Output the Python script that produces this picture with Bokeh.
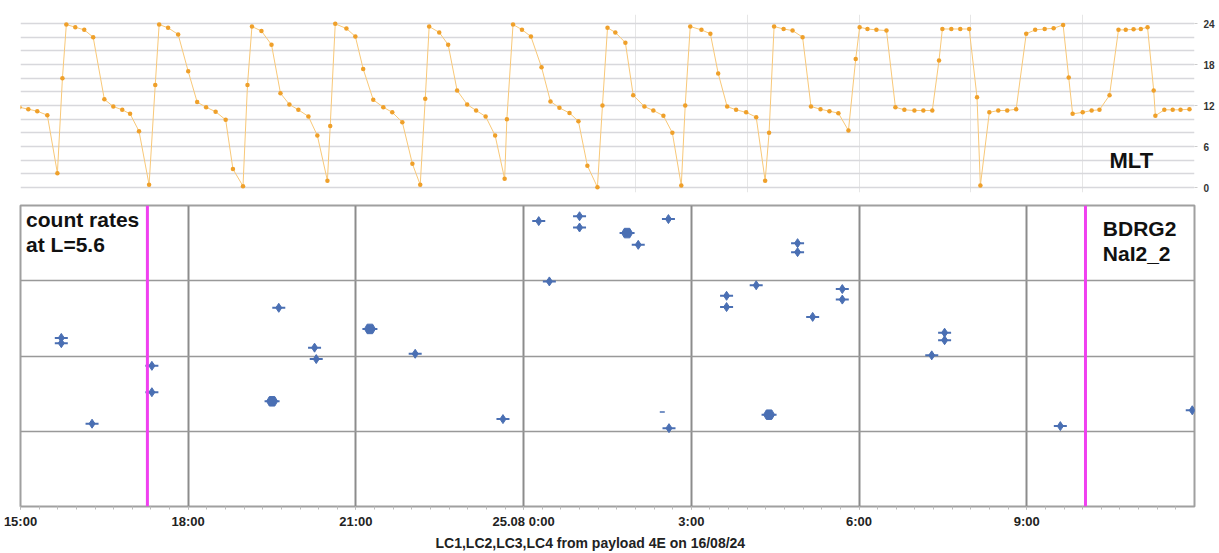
from bokeh.plotting import figure
from bokeh.layouts import column
from bokeh.models import Range1d, FixedTicker, Span, Label, Title
from bokeh.embed import file_html
from bokeh.resources import INLINE
import numpy as np

FONT = "Liberation Sans"

# ---------------- data ----------------
# hours since 24.08 0:00
mlt_time = [14.98, 15.14, 15.30, 15.48, 15.66, 15.75, 15.82, 15.98, 16.14, 16.30,
            16.50, 16.66, 16.82, 16.96, 17.12, 17.30, 17.41, 17.48, 17.64, 17.82,
            18.00, 18.16, 18.32, 18.49, 18.67, 18.80, 18.98, 19.06, 19.14, 19.31,
            19.49, 19.65, 19.81, 19.97, 20.15, 20.31, 20.49, 20.54, 20.63, 20.83,
            20.99, 21.13, 21.31, 21.49, 21.65, 21.83, 22.01, 22.15, 22.24, 22.31,
            22.49, 22.65, 22.81, 22.99, 23.15, 23.32, 23.49, 23.66, 23.70, 23.81,
            23.97, 24.13, 24.32, 24.48, 24.64, 24.82, 24.98, 25.14, 25.32, 25.41,
            25.50, 25.64, 25.82, 25.96, 26.16, 26.32, 26.50, 26.66, 26.82, 26.89,
            26.98, 27.18, 27.34, 27.48, 27.64, 27.80, 27.98, 28.16, 28.32, 28.39,
            28.48, 28.65, 28.81, 28.99, 29.14, 29.31, 29.47, 29.63, 29.81, 29.94,
            30.01, 30.15, 30.31, 30.49, 30.65, 30.81, 30.99, 31.15, 31.31, 31.43,
            31.49, 31.65, 31.81, 31.97, 32.11, 32.17, 32.33, 32.49, 32.65, 32.81,
            32.99, 33.15, 33.32, 33.48, 33.65, 33.75, 33.82, 34.00, 34.16, 34.30,
            34.48, 34.64, 34.77, 34.91, 35.04, 35.16, 35.27, 35.30, 35.46, 35.61,
            35.75, 35.91]
mlt_value = [11.75, 11.46, 11.17, 10.58, 2.1, 16.0, 23.85, 23.46, 23.07, 22.0,
             12.9, 11.85, 11.37, 10.78, 8.24, 0.4, 15.0, 23.85, 23.37, 22.4,
             17.0, 12.5, 11.75, 11.1, 9.9, 2.7, 0.2, 15.0, 23.56, 22.9,
             20.9, 13.8, 12.15, 11.37, 10.4, 7.6, 1.0, 9.0, 23.95, 23.27,
             22.1, 17.35, 12.83, 11.75, 11.0, 9.56, 3.46, 0.4, 13.0, 23.56,
             22.7, 20.9, 14.2, 12.15, 11.27, 10.4, 7.6, 1.27, 10.0, 23.85,
             23.1, 22.1, 17.6, 12.6, 11.66, 10.9, 9.7, 3.2, 0.05, 12.0,
             23.37, 22.7, 21.2, 13.5, 11.85, 11.27, 10.5, 8.0, 0.3, 12.0,
             23.56, 23.07, 22.5, 16.7, 11.85, 11.37, 11.0, 10.3, 1.0, 8.0,
             23.56, 23.2, 22.97, 22.0, 11.85, 11.46, 11.17, 10.88, 8.34, 18.8,
             23.46, 23.2, 23.07, 22.97, 11.75, 11.37, 11.27, 11.27, 11.27, 18.6,
             23.2, 23.2, 23.2, 23.2, 13.2, 0.3, 11.0, 11.27, 11.27, 11.46,
             22.5, 23.07, 23.2, 23.3, 23.8, 16.1, 10.78, 11.0, 11.27, 11.37,
             13.5, 23.07, 23.07, 23.15, 23.2, 23.46, 14.2, 10.5, 11.37, 11.37,
             11.37, 11.46]

# count rates (BDRG2 NaI2_2) at L=5.6
rate_time = [15.73, 15.73, 16.28, 17.35, 17.35, 19.62, 20.26, 20.29, 22.06, 23.63,
             24.27, 25.00, 25.00, 26.05, 26.59, 24.46, 26.60, 27.63, 27.63, 28.16,
             28.90, 28.90, 29.70, 29.70, 29.17, 31.53, 31.53, 31.30, 33.60, 35.96]
rate_value = [174, 148, 12.6, 74, 33, 437, 129, 91, 107, 14.5,
              6200, 7200, 5100, 3000, 6600, 980, 11, 631, 447, 871,
              3160, 2400, 776, 562, 331, 204, 162, 102, 11.7, 19]
rate_big_time = [19.50, 21.25, 25.85, 28.39]
rate_big_value = [25, 229, 4300, 16.6]
rate_small_time = [26.48]
rate_small_value = [18]

event_times = [17.27, 34.05]

x_start, x_end = 15.0, 36.0
mlt_ticks = [0, 6, 12, 18, 24]
time_ticks = [15, 18, 21, 24, 27, 30, 33]
time_labels = ["15:00", "18:00", "21:00", "25.08 0:00", "3:00", "6:00", "9:00"]

# ---------------- top panel: MLT ----------------
W = 1217
p1 = figure(width=W, height=197, output_backend="svg", toolbar_location=None,
            x_range=Range1d(x_start, x_end), y_range=Range1d(-0.73, 25.32),
            y_axis_location="right", min_border_left=20, min_border_right=20,
            min_border_top=14, min_border_bottom=5)
p1.outline_line_color = None
p1.xaxis.visible = False
p1.ygrid.ticker = FixedTicker(ticks=list(range(0, 25, 2)))
p1.ygrid.grid_line_color = "#d8d8dc"
p1.ygrid.grid_line_width = 1.5
p1.xgrid.ticker = FixedTicker(ticks=[26, 28, 30, 32, 34])
p1.xgrid.grid_line_color = "#e6e6e6"
p1.xgrid.grid_line_width = 1
ya = p1.yaxis[0]
ya.ticker = FixedTicker(ticks=mlt_ticks)
ya.axis_line_color = None
ya.major_tick_line_color = "#cccccc"
ya.major_tick_in = 0
ya.major_tick_out = 3
ya.minor_tick_line_color = None
ya.major_label_standoff = 6
ya.major_label_text_font = FONT
ya.major_label_text_font_style = "bold"
ya.major_label_text_font_size = "10px"
ya.major_label_text_color = "#333333"

p1.line(mlt_time, mlt_value, line_color="#f8c878", line_width=1)
p1.scatter(mlt_time, mlt_value, size=4.5, fill_color="#efa02a", line_color=None)
p1.add_layout(Label(x=34.48, y=4.0, text="MLT", text_font=FONT, text_font_style="bold",
                    text_font_size="22px", text_baseline="middle", text_color="#111111"))

# ---------------- bottom panel: count rates ----------------
p2 = figure(width=W, height=355, output_backend="svg", toolbar_location=None,
            x_range=p1.x_range, y_range=Range1d(1, 1e4), y_axis_type="log",
            min_border_left=20, min_border_right=20, min_border_top=8,
            min_border_bottom=0)
p2.outline_line_color = "#a0a0a0"
p2.outline_line_width = 2
p2.yaxis.visible = False
p2.xgrid.ticker = FixedTicker(ticks=time_ticks[1:])
p2.xgrid.grid_line_color = "#8c8c8c"
p2.xgrid.grid_line_width = 2
p2.ygrid.ticker = FixedTicker(ticks=[10, 100, 1000])
p2.ygrid.grid_line_color = "#999999"
p2.ygrid.grid_line_width = 1.5

xa = p2.xaxis[0]
minor = [t + k / 3 for t in np.arange(x_start, x_end, 1.0) for k in range(3)]
xa.ticker = FixedTicker(ticks=time_ticks, minor_ticks=minor)
xa.major_label_overrides = {t: l for t, l in zip(time_ticks, time_labels)}
xa.axis_line_color = None
xa.major_tick_line_color = "#aaaaaa"
xa.major_tick_in = 0
xa.major_tick_out = 3
xa.minor_tick_line_color = "#bbbbbb"
xa.minor_tick_in = 0
xa.minor_tick_out = 3
xa.major_label_standoff = 4
xa.major_label_text_font = FONT
xa.major_label_text_font_style = "bold"
xa.major_label_text_font_size = "13px"
xa.major_label_text_color = "#222222"

for t in event_times:
    p2.add_layout(Span(location=t, dimension="height", line_color="#f040f0", line_width=3))

blue = "#4a6fb3"
p2.scatter(rate_time, rate_value, marker="dash", size=13, line_color=blue, line_width=2)
p2.scatter(rate_time, rate_value, marker="diamond", size=9, fill_color=blue, line_color=blue)
p2.scatter(rate_big_time, rate_big_value, marker="dash", size=15, line_color=blue, line_width=2)
p2.scatter(rate_big_time, rate_big_value, marker="hex", size=11, fill_color=blue, line_color=blue)
p2.scatter(rate_small_time, rate_small_value, marker="dash", size=5, line_color=blue, line_width=1.5)

p2.add_layout(Label(x=15.1, y=9300, text="count rates\nat L=5.6", text_font=FONT,
                    text_font_style="bold", text_font_size="21px", text_baseline="top",
                    text_line_height=1.1, text_color="#111111"))
p2.add_layout(Label(x=34.36, y=7000, text="BDRG2\nNaI2_2", text_font=FONT,
                    text_font_style="bold", text_font_size="21px", text_baseline="top",
                    text_line_height=1.1, text_color="#111111"))

p2.add_layout(Title(text="LC1,LC2,LC3,LC4 from payload 4E on 16/08/24", align="left",
                    offset=415, standoff=3, text_font=FONT, text_font_style="bold",
                    text_font_size="14px", text_color="#222222"), "below")

open("out.html", "w").write(file_html(column(p1, p2), INLINE))
